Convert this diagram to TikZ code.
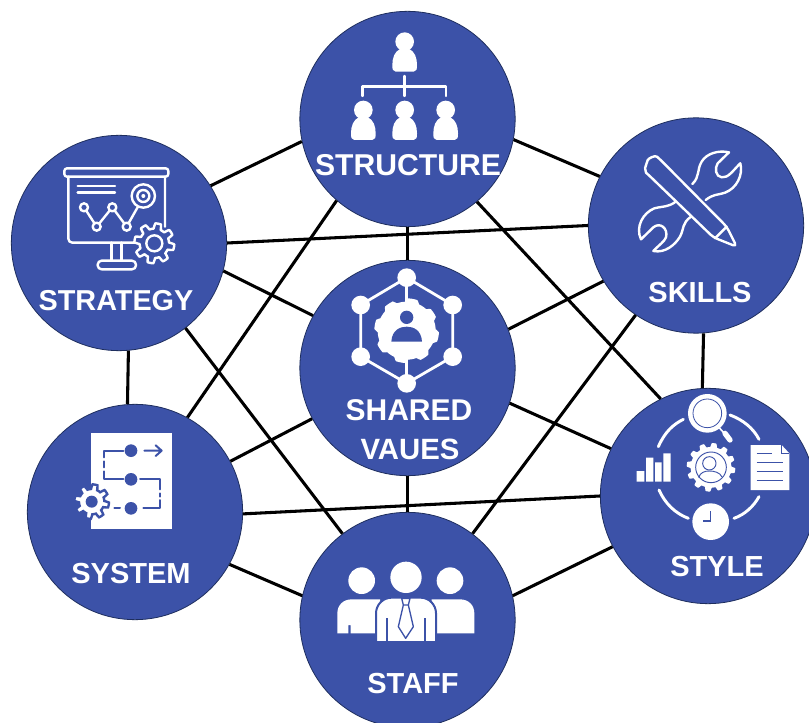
\documentclass[tikz,border=0pt]{standalone}
\usepackage{fontspec}
\setmainfont{Liberation Sans}
\definecolor{hubblue}{HTML}{3C52A8}
\definecolor{hubedge}{HTML}{1E2E5E}
\newcommand{\labfont}[1]{\bfseries\fontsize{#1}{#1}\selectfont}
\newcommand{\gearat}[6]{\path[#1,shift={(#2,#3)}] plot[domain=0:360,samples=241,variable=\t] (\t:{#4+#5*max(-1,min(1,2.5*sin(#6*\t)))}) -- cycle;}
\tikzset{
  hub/.style={circle,draw=hubedge,line width=.6pt,fill=hubblue,minimum size=161.5pt,inner sep=0pt},
  link/.style={draw=black,line width=2.3pt},
  lab/.style={text=white,inner sep=0pt,font=\labfont{21.75}},
  zoomed/.style={x=.25pt,y=-.25pt},
  wline/.style={draw=white,line width=1.8pt,line join=round,line cap=round},
  bline/.style={draw=hubblue,line width=1.5pt,line join=round,line cap=round},
  wfill/.style={fill=white},
  bfill/.style={fill=hubblue},
  pics/person/.style={code={
    \fill[white] (0,0) circle[radius=28];
    \fill[white] (-27,90) .. controls (-36,90) and (-37,82) .. (-37,70) .. controls (-37,48) and (-30,30) .. (-14,22) -- (14,22) .. controls (30,30) and (37,48) .. (37,70) .. controls (37,82) and (36,90) .. (27,90) -- cycle;
  }},
}
\begin{document}
\begin{tikzpicture}[x=.75pt,y=-.75pt]
\useasboundingbox (0,0) rectangle (809,723);
\clip (0,0) rectangle (809,723);
\fill[white] (0,0) rectangle (809,723);
\node[hub] (structure) at (407.5,119) {};
\node[hub] (skills) at (696,225.5) {};
\node[hub] (strategy) at (119,243) {};
\node[hub] (shared) at (407.5,368) {};
\node[hub] (system) at (135,512) {};
\node[hub] (style) at (708,496) {};
\node[hub] (staff) at (407.5,620) {};
\foreach \a/\p/\b/\q in {structure/192.3/strategy/32.5,structure/-11.3/skills/153,structure/270/shared/90,
  structure/229.7/system/61,structure/-50.7/style/116.6,
  strategy/0/skills/180,strategy/-15.7/shared/151,strategy/-85.7/system/94.3,strategy/-52.4/staff/127.6,
  skills/211.8/shared/21.9,skills/-86.8/style/93.2,skills/236.2/staff/53,
  shared/208.6/system/28.4,shared/-19.8/style/154.4,shared/-90/staff/90,
  system/-1/style/180,system/-29.6/staff/167.6,style/208.2/staff/13.6}
  \draw[link] (\a.\p) -- (\b.\q);
\node[lab,font=\labfont{22.6}] (tstructure) at (408,165) {STRUCTURE};
\node[lab,font=\labfont{21.6}] (tstrategy) at (116,300.5) {STRATEGY};
\node[lab,font=\labfont{22.5}] (tshared) at (409,410) {SHARED};
\node[lab,font=\labfont{22}] (tvalues) at (410,449.5) {VAUES};
\node[lab] (tsystem) at (131,573.5) {SYSTEM};
\node[lab] (tstaff) at (413,684) {STAFF};
\node[lab] (tskills) at (700,293) {SKILLS};
\node[lab] (tstyle) at (717,566.5) {STYLE};
% structure icon
\begin{scope}[shift={(300,0)},zoomed]
  \pic at (314,125) {person};
  \pic at (190,330) {person};
  \pic at (314,330) {person};
  \pic at (437,330) {person};
  \draw[wline] (314,228) -- (314,288) (188,288) -- (188,260) -- (438,260) -- (438,288);
\end{scope}
% strategy icon
\begin{scope}[shift={(10,130)},zoomed]
  \draw[wline,rounded corners=2pt] (163,115) rectangle (475,140);
  \draw[wline,rounded corners=3pt] (465,140) -- (465,290) (175,140) -- (175,338) -- (380,338);
  \draw[wline] (305,338) -- (305,392) (335,338) -- (335,392);
  \draw[wline,rounded corners=3pt] (263,392) rectangle (378,418);
  \draw[wline] (203,168) -- (315,168) (203,187) -- (315,187);
  \draw[wline] (222,232) -- (260,290) -- (307,232) -- (350,290) -- (385,228);
  \draw[wline,bfill] (222,232) circle[radius=12];
  \draw[wline,bfill] (260,290) circle[radius=12];
  \draw[wline,bfill] (307,232) circle[radius=12];
  \draw[wline,bfill] (350,290) circle[radius=12];
  \draw[wline,bfill] (400,198) circle[radius=35];
  \draw[wline] (400,198) circle[radius=18];
  \fill[white] (400,198) circle[radius=6];
  \gearat{wline,bfill}{433}{340}{52}{8}{8}
  \draw[wline] (433,340) circle[radius=24];
\end{scope}
% shared values icon
\begin{scope}[shift={(300,255)},zoomed]
  \draw[wline,line width=2.1pt] (320,68) -- (458,150) -- (458,305) -- (320,385) -- (182,305) -- (182,150) -- cycle;
  \draw[wline,line width=2.1pt] (320,68) -- (320,385);
  \gearat{wfill}{320}{227}{92}{5}{8}
  \foreach \p in {(320,68),(458,150),(458,305),(320,385),(182,305),(182,150)}
    \fill[white] \p circle[radius=28];
  \fill[hubblue] (320,187) circle[radius=20];
  \fill[hubblue] (274,260) .. controls (276,225) and (300,215) .. (320,215) .. controls (340,215) and (364,225) .. (366,260) -- cycle;
\end{scope}
% skills icon
\begin{scope}[shift={(585,120)},zoomed]
  \draw[wline] (322,192) .. controls (345,170) and (335,150) .. (350,125) .. controls (365,100) and (400,90) .. (432,97) -- (398,130) .. controls (388,145) and (392,170) .. (410,172) .. controls (430,175) and (445,150) .. (466,130) .. controls (475,165) and (455,205) .. (420,218) .. controls (395,226) and (385,222) .. (362,240);
  \draw[wline] (272,245) .. controls (250,262) and (235,258) .. (208,265) .. controls (175,278) and (150,320) .. (168,358) -- (205,322) .. controls (225,305) and (250,325) .. (243,352) .. controls (238,365) and (222,375) .. (205,393) .. controls (240,400) and (270,375) .. (285,350) .. controls (298,325) and (290,310) .. (318,290);
  \draw[wline,rounded corners=3pt] (225,118) .. controls (210,105) and (190,115) .. (184,132) .. controls (180,145) and (183,158) .. (192,166) -- (385,352) -- (455,380) -- (425,320) -- cycle;
  \draw[wline] (390,355) -- (425,320);
\end{scope}
% system icon
\begin{scope}[shift={(25,400)},zoomed]
  \fill[white] (198,100) rectangle (440,388);
  \foreach \yy in {152,238,325} \fill[hubblue] (318,\yy) circle[radius=19];
  \draw[bline] (295,152) -- (238,152) -- (238,172) (238,184) -- (238,202) (238,214) -- (238,238) -- (295,238);
  \draw[bline] (345,238) -- (405,238) -- (405,268) (405,280) -- (405,290) (405,300) -- (405,325) -- (355,325);
  \draw[bline] (268,325) -- (285,325);
  \draw[bline] (358,152) -- (408,152) (392,136) -- (410,152) -- (392,168);
  \gearat{draw=hubblue,line width=1.8pt,fill=white}{200}{305}{45}{7}{8}
  \fill[hubblue] (200,305) circle[radius=18];
\end{scope}
% style icon
\begin{scope}[shift={(590,385)},zoomed]
  \draw[wline,line width=2.2pt] (205,185) .. controls (225,140) and (250,118) .. (280,103);
  \draw[wline,line width=2.2pt] (420,90) .. controls (460,105) and (490,130) .. (507,163);
  \draw[wline,line width=2.2pt] (507,335) .. controls (490,365) and (465,388) .. (432,400);
  \draw[wline,line width=2.2pt] (207,315) .. controls (225,355) and (255,385) .. (295,400);
  \fill[white] (352,85) circle[radius=58];
  \draw[draw=hubblue,line width=.6pt] (352,85) circle[radius=43];
  \draw[white,line width=1.2pt] (385,125) -- (400,142);
  \draw[white,line width=4pt,line cap=round] (405,145) -- (420,165);
  \fill[white] (140,258) rectangle (163,290) (168,218) rectangle (190,290) (195,232) rectangle (215,290) (220,205) rectangle (242,290);
  \gearat{wfill}{363}{247}{67}{6}{12}
  \draw[draw=hubblue,line width=.7pt] (363,247) circle[radius=46];
  \draw[draw=hubblue,line width=.7pt] (358,235) circle[radius=20];
  \draw[draw=hubblue,line width=.7pt] (326,278) .. controls (330,262) and (345,258) .. (358,258) .. controls (372,258) and (390,262) .. (396,276);
  \fill[white] (482,180) -- (575,180) -- (598,205) -- (598,315) -- (482,315) -- cycle;
  \draw[draw=hubblue,line width=.6pt] (575,180) -- (575,205) -- (598,205);
  \draw[draw=hubblue,line width=.7pt] (500,205) -- (545,205) (500,232) -- (578,232) (500,258) -- (578,258) (500,285) -- (578,285);
  \fill[white] (362,410) circle[radius=55];
  \draw[draw=hubblue,line width=.8pt] (362,378) -- (362,408) -- (340,408);
\end{scope}
% staff icon
\begin{scope}[shift={(300,510)},zoomed]
  \fill[white] (185,212) circle[radius=40] (450,212) circle[radius=40] (318,202) circle[radius=47];
  \fill[white] (112,370) -- (112,310) .. controls (112,285) and (130,268) .. (155,268) -- (240,268) -- (240,370) -- (152,370) -- (152,345) -- (145,345) -- (145,370) -- cycle;
  \fill[white] (523,370) -- (523,310) .. controls (523,285) and (505,268) .. (480,268) -- (395,268) -- (395,370) -- (490,370) -- (490,345) -- (483,345) -- (483,370) -- cycle;
  \draw[draw=hubblue,line width=1.5pt,fill=white] (228,396) -- (228,310) .. controls (228,285) and (248,263) .. (275,263) -- (362,263) .. controls (388,263) and (408,285) .. (408,310) -- (408,396) -- cycle;
  \draw[draw=hubblue,line width=1.5pt] (262,396) -- (262,325) (375,396) -- (375,325);
  \draw[draw=hubblue,line width=1pt,line join=round] (305,265) -- (330,265) -- (325,285) -- (310,285) -- cycle (310,285) -- (295,350) -- (317,385) -- (340,350) -- (325,285);
\end{scope}
\end{tikzpicture}
\end{document}
